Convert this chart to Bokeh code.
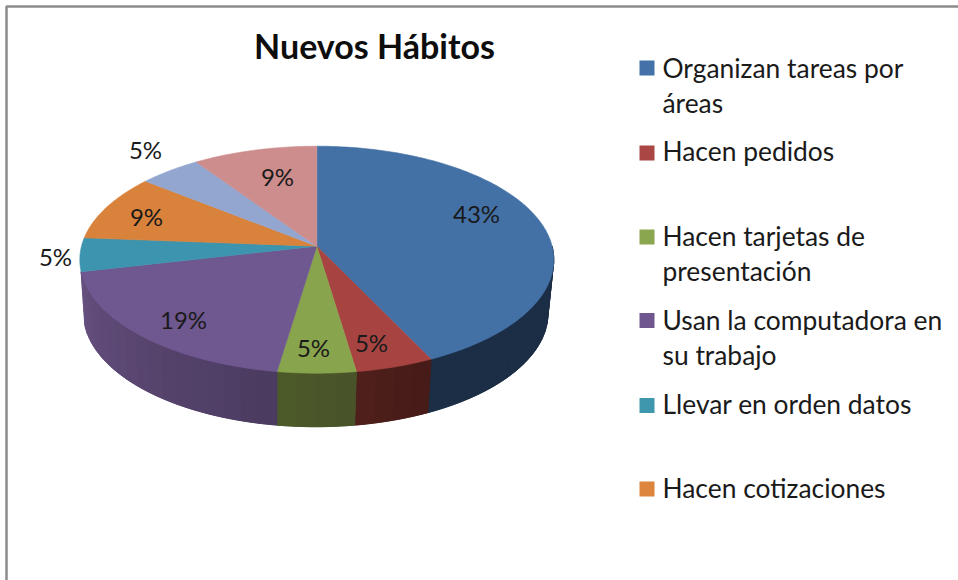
import numpy as np
from bokeh.plotting import figure
from bokeh.embed import file_html
from bokeh.resources import INLINE
from bokeh.core.properties import value

# ---- data ----
title_text = "Nuevos Hábitos"
slice_values = [42.86, 4.76, 4.76, 19.05, 4.76, 9.52, 4.76, 9.52]
slice_labels = ["43%", "5%", "5%", "19%", "5%", "9%", "5%", "9%"]
legend_lines = [
    ["Organizan tareas por", "áreas"],
    ["Hacen pedidos"],
    ["Hacen tarjetas de", "presentación"],
    ["Usan la computadora en", "su trabajo"],
    ["Llevar en orden datos"],
    ["Hacen cotizaciones"],
]

# ---- style / layout ----
top_colors = ["#4371A6", "#A74442", "#88A44D", "#6F5790", "#3C94AE", "#D9823B", "#92A6CF", "#CE8D8D"]
wall_from = ["#1B2E45", "#451A17", "#49522A", "#4A3A5F"]
wall_to = ["#1B2E45", "#4F201C", "#4C5A29", "#66507F"]
legend_colors = ["#4472A8", "#AA4644", "#8AA64E", "#70568F", "#3F97AE", "#DD853D"]
label_xy = [(476, 213), (371, 342), (313, 347), (183, 319), (55, 256), (146, 216), (145, 149), (277, 176)]
legend_marker_y = [67.5, 152.5, 236.5, 320, 405, 488.5]
legend_centers = [[67, 102], [150], [235, 270], [319, 354], [403], [487]]

FONT = "Lato"
CX, CY, SX, SY, K = 316.3, 245.7, 235.3, 111.9, 0.119
DEPTH, BOTTOM_SCALE, BOTTOM_DX = 53.5, 0.98, -1.0


def project(a, bottom=False):
    """a: clockwise angle from the back of the pie, radians -> perspective screen point."""
    X, Y = np.sin(a), np.cos(a)
    w = 1 + K * Y
    sx, sy = SX * X / w, -SY * Y / w
    if bottom:
        return CX + BOTTOM_DX + BOTTOM_SCALE * sx, CY + sy + DEPTH
    return CX + sx, CY + sy


def hex2rgb(h):
    return np.array([int(h[i:i + 2], 16) for i in (1, 3, 5)], dtype=float)


def mix(c0, c1, t):
    r = hex2rgb(c0) * (1 - t) + hex2rgb(c1) * t
    return "#%02x%02x%02x" % tuple(int(round(v)) for v in r)


vals = np.array(slice_values, dtype=float)
edges = np.concatenate([[0], np.cumsum(vals) / vals.sum()]) * 2 * np.pi

p = figure(width=958, height=580, x_range=(0, 958), y_range=(580, 0),
           output_backend="svg", toolbar_location=None, min_border=0,
           margin=0, outline_line_color=None)
p.axis.visible = False
p.grid.visible = False

# frame of the picture
p.line([6, 6, 958], [580, 6, 6], line_color="#8C8C8C", line_width=2.5)

# walls: front half only; a solid underlay, then strips with a slow shade
wall_start = np.pi / 2
ux, uy, uc, wx, wy, wc = [], [], [], [], [], []
for i in range(4):
    a0 = max(edges[i], wall_start)
    a1 = edges[i + 1]
    whole = np.linspace(a0, a1, 60)
    tx, ty = project(whole)
    bx, by = project(whole[::-1], bottom=True)
    ux.append(np.concatenate([tx, bx]).tolist())
    uy.append(np.concatenate([ty, by]).tolist())
    uc.append(mix(wall_from[i], wall_to[i], 0.5))
    n = max(int((a1 - a0) / np.radians(4)), 2)
    aa = np.linspace(a0, a1, n + 1)
    for j in range(n):
        seg = np.linspace(aa[j], aa[j + 1], 5)
        tx, ty = project(seg)
        bx, by = project(seg[::-1], bottom=True)
        wx.append(np.concatenate([tx, bx]).tolist())
        wy.append(np.concatenate([ty, by]).tolist())
        wc.append(mix(wall_from[i], wall_to[i], (j + .5) / n))
p.patches(ux, uy, fill_color=uc, line_color=uc, line_width=0.5)
p.patches(wx, wy, fill_color=wc, line_color=wc, line_width=1)

# top face
fx, fy = [], []
for i in range(len(vals)):
    aa = np.linspace(edges[i], edges[i + 1], max(int((edges[i + 1] - edges[i]) / np.radians(1)), 4))
    x, y = project(aa)
    fx.append([CX] + x.tolist())
    fy.append([CY] + y.tolist())
p.patches(fx, fy, fill_color=top_colors, line_color=top_colors, line_width=0.6)

# data labels
p.text([q[0] for q in label_xy], [q[1] for q in label_xy], text=slice_labels,
       text_font=value(FONT), text_font_size="24px", text_color="#1A1A1A",
       text_align="center", text_baseline="middle")

# title
p.text([374], [45], text=[title_text], text_font=value(FONT), text_font_style="bold",
       text_font_size="34px", text_color="#0D0D0D", text_align="center", text_baseline="middle")

# legend
p.scatter([646.5] * len(legend_colors), legend_marker_y, marker="square", size=15,
          fill_color=legend_colors, line_color=None)
tx, ty, tt = [], [], []
for lines, centers in zip(legend_lines, legend_centers):
    for line, c in zip(lines, centers):
        tx.append(662); ty.append(c); tt.append(line)
p.text(tx, ty, text=tt, text_font=value(FONT), text_font_size="26.4px", text_color="#1A1A1A",
       text_align="left", text_baseline="middle")

open("out.html", "w").write(file_html(p, INLINE))
